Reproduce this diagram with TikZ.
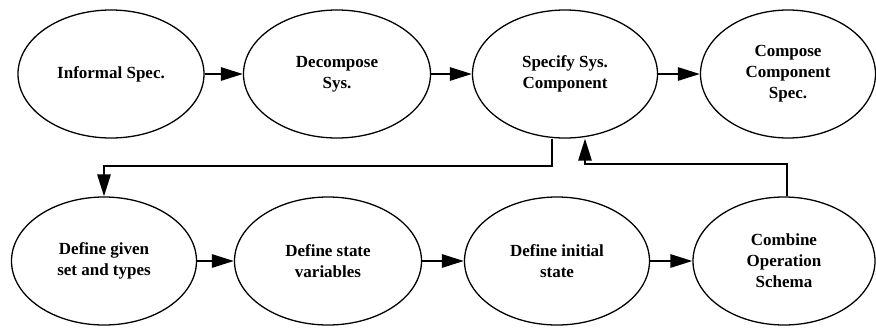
\documentclass[tikz,border=0pt]{standalone}
\usepackage{fontspec}
\setmainfont{Liberation Serif}
\usetikzlibrary{shapes.geometric,arrows.meta}

\begin{document}
\begin{tikzpicture}[x=0.3mm,y=-0.3mm,
    etapa/.style={ellipse,draw,line width=1.1pt,inner sep=0pt,
      minimum height=38.4mm,align=center,
      font=\bfseries\fontsize{14.5}{18}\selectfont},
    flecha/.style={-{Triangle[length=6.6mm,width=4mm]},line width=1.6pt}]
  % Marco con las proporciones del original
  \useasboundingbox (0,0) rectangle (876,327);

  % Fila superior
  \node[etapa,minimum width=55.8mm] (inf) at (111,74) {Informal Spec.};
  \node[etapa,minimum width=56.1mm] (dec) at (337,74) {Decompose\\Sys.};
  \node[etapa,minimum width=55.5mm] (spec) at (565,74) {Specify Sys.\\Component};
  \node[etapa,minimum width=52.5mm] (comp) at (788,74) {Compose\\Component\\Spec.};

  % Fila inferior
  \node[etapa,minimum width=55.5mm] (given) at (104,261) {Define given\\set and types};
  \node[etapa,minimum width=56.1mm] (state) at (328,261) {Define state\\variables};
  \node[etapa,minimum width=55.5mm] (init) at (557,261) {Define initial\\state};
  \node[etapa,minimum width=54.6mm] (comb) at (784,261) {Combine\\Operation\\Schema};

  % Flechas
  \draw[flecha] (inf) -- (dec);
  \draw[flecha] (dec) -- (spec);
  \draw[flecha] (spec) -- (comp);
  \draw[flecha] (given) -- (state);
  \draw[flecha] (state) -- (init);
  \draw[flecha] (init) -- (comb);

  % Bucle entre las dos filas
  \draw[flecha] ([xshift=-3.9mm]spec.south) -- ++(0,27) -| (given.north);
  \draw[flecha] ([xshift=0.9mm]comb.north) -- ++(0,-32) -| ([xshift=6mm]spec.south);
\end{tikzpicture}
\end{document}
